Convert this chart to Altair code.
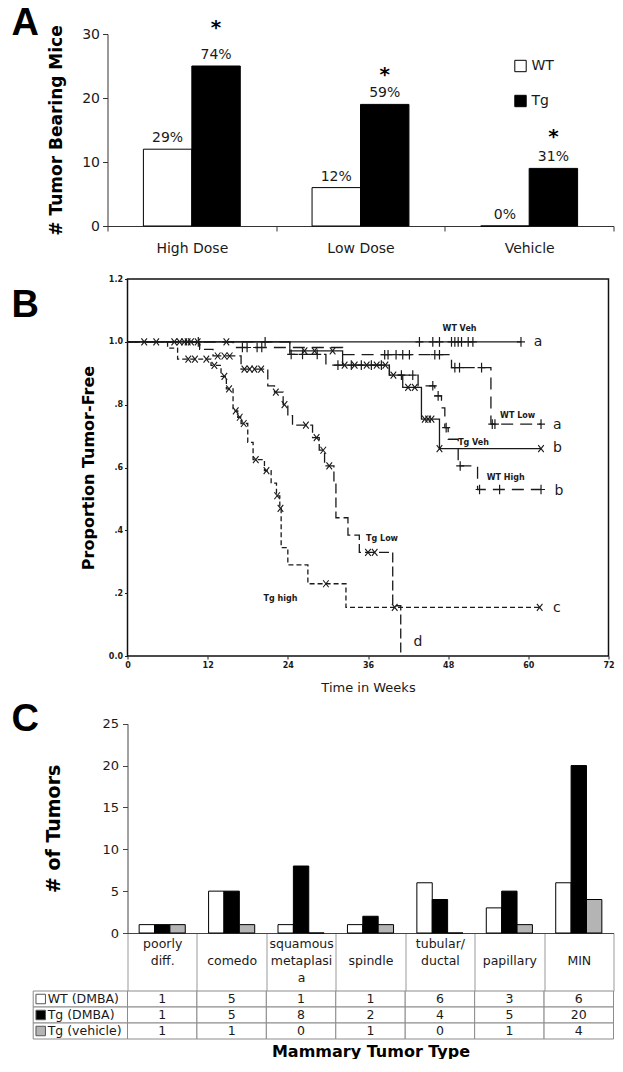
import altair as alt
import pandas as pd

# ======================= Panel A data =======================
A_CATEGORIES = ["High Dose", "Low Dose", "Vehicle"]
A_GROUPS = ["WT", "Tg"]
A_WT = [12, 6, 0]
A_TG = [25, 19, 9]
A_WT_PCT = ["29%", "12%", "0%"]
A_TG_PCT = ["74%", "59%", "31%"]
A_SIG = ["*", "*", "*"]
A_SIG_LEVEL = [31.2, 23.9, 14.2]
A_YTICKS = [0, 5, 10, 15, 20, 25, 30]

# ======================= Panel B data =======================
B_CURVES = ["WT Veh", "WT Low", "WT High", "Tg Veh", "Tg Low", "Tg high"]
B_XTICKS = [0, 12, 24, 36, 48, 60, 72]
B_YTICKS = [0, 0.2, 0.4, 0.6, 0.8, 1.0, 1.2]

WT_VEH_T = [0, 58.9]
WT_VEH_P = [1.0, 1.0]
WT_VEH_CENS = [10.6, 20.6, 43.7, 45.7, 46.7, 48.5, 49.0, 49.5, 50.0, 51.0, 51.7, 58.9]

WT_LOW_T = [0, 15.8, 32.2, 48.5, 54.4, 61.9]
WT_LOW_P = [1.0, 0.982, 0.959, 0.918, 0.738, 0.738]
WT_LOW_CENS = [17.2, 17.9, 19.4, 20.1, 38.5, 39.0, 40.2, 41.2, 42.2, 46.0, 46.7,
               49.0, 49.7, 53.0, 54.6, 55.0, 61.9]

WT_HIGH_T = [0, 24.3, 29.7, 39.2, 43.5, 46.0, 47.0, 47.5, 48.0, 49.5, 52.4, 61.9]
WT_HIGH_P = [1.0, 0.96, 0.926, 0.894, 0.86, 0.828, 0.79, 0.727, 0.69, 0.605, 0.53, 0.53]
WT_HIGH_CENS = [24.5, 26.2, 28.4, 31.5, 33.5, 35.0, 36.5, 38.0, 41.0, 42.7, 45.7, 46.5,
                47.7, 49.8, 52.7, 55.7, 61.9]

TG_VEH_T = [0, 24.3, 32.2, 39.2, 41.2, 44.0, 46.7, 61.9]
TG_VEH_P = [1.0, 0.971, 0.926, 0.894, 0.855, 0.754, 0.66, 0.66]
TG_VEH_CENS = [14.8, 26.5, 28.0, 30.7, 32.5, 34.0, 35.8, 37.3, 38.6, 39.8, 42.0, 43.0,
               44.5, 45.0, 45.5, 46.7, 61.9]

TG_LOW_T = [0, 10.8, 12.8, 17.0, 21.0, 22.0, 23.3, 24.0, 24.7, 27.7, 28.7, 29.5,
            30.9, 31.2, 33.0, 34.7, 39.7, 40.9]
TG_LOW_P = [1.0, 0.976, 0.955, 0.913, 0.86, 0.84, 0.80, 0.765, 0.735, 0.695, 0.655, 0.605,
            0.55, 0.44, 0.385, 0.33, 0.16, 0.0]
TG_LOW_CENS = [2.5, 4.3, 7.0, 7.8, 8.5, 9.0, 9.5, 10.5, 13.5, 14.5, 15.3, 17.5, 18.3,
               19.0, 20.0, 22.2, 23.5, 26.7, 28.3, 29.3, 30.2, 36.0, 37.0]

TG_HIGH_T = [0, 6.0, 7.5, 12.5, 14.0, 14.8, 15.8, 16.5, 17.0, 18.0, 18.8, 20.5, 21.5,
             22.3, 22.8, 23.0, 24.0, 27.0, 32.7, 61.7]
TG_HIGH_P = [1.0, 0.98, 0.945, 0.925, 0.89, 0.85, 0.78, 0.76, 0.74, 0.68, 0.625, 0.59,
             0.55, 0.51, 0.47, 0.345, 0.29, 0.23, 0.155, 0.155]
TG_HIGH_CENS = [9.1, 10.1, 11.8, 13.0, 14.5, 15.2, 16.2, 16.8, 17.4, 19.2, 20.8, 22.4,
                22.9, 29.7, 40.0, 61.7]

B_LABEL_TEXT = ["WT Veh", "WT Low", "Tg Veh", "WT High", "Tg Low", "Tg high"]
B_LABEL_T = [49.7, 58.4, 51.8, 56.6, 38.1, 22.9]
B_LABEL_P = [1.04, 0.764, 0.679, 0.566, 0.372, 0.18]

B_END_TEXT = ["a", "a", "b", "b", "c", "d"]
B_END_T = [60.8, 63.7, 63.7, 63.9, 63.7, 42.8]
B_END_P = [1.0, 0.735, 0.663, 0.525, 0.153, 0.044]

# ======================= Panel C data =======================
C_CATEGORIES = ["poorly\ndiff.", "comedo", "squamous\nmetaplasi\na", "spindle",
                "tubular/\nductal", "papillary", "MIN"]
C_SERIES = ["WT (DMBA)", "Tg (DMBA)", "Tg (vehicle)"]
C_WT = [1, 5, 1, 1, 6, 3, 6]
C_TG = [1, 5, 8, 2, 4, 5, 20]
C_VEH = [1, 1, 0, 1, 0, 1, 4]
C_YTICKS = [0, 5, 10, 15, 20, 25]

# ======================= styles / layout =======================
FONT = "DejaVu Sans"
INK = "#1a1a1a"
LETTER_FONT = "Liberation Sans"
SPACING = 53
A_W, A_H = 486, 192
B_W, B_H = 481, 377
C_W, C_H = 486, 224
C_TOP_PAD = 14.7
T_H = 53
T_TOP_PAD = 5
LABEL_W = 94.3 / (C_W / 7.0)   # width of the table's label column, in column units


def letter(t, offset, dy):
    return alt.TitleParams(t, anchor="start", frame="group", dx=-116, dy=dy, offset=offset,
                           fontSize=38, font=LETTER_FONT, fontWeight="bold",
                           color="black", baseline="alphabetic")


# ======================= Panel A =======================
rows = []
for i, c in enumerate(A_CATEGORIES):
    rows.append({"cat": c, "g": "WT", "v": A_WT[i], "pct": A_WT_PCT[i]})
    rows.append({"cat": c, "g": "Tg", "v": A_TG[i], "pct": A_TG_PCT[i]})
dfA = pd.DataFrame(rows)
dfA_sig = pd.DataFrame({"cat": A_CATEGORIES, "g": ["Tg"] * 3, "v": A_SIG_LEVEL, "s": A_SIG})

xA = alt.X("cat:N", sort=A_CATEGORIES,
           scale=alt.Scale(range=[-20, A_W], paddingInner=0, paddingOuter=0),
           axis=alt.Axis(title=None, labelAngle=0, tickBand="extent", tickSize=5,
                         labelPadding=10, labelFontSize=14, labelColor=INK,
                         domainColor="#333", tickColor="#333"))
xoA = alt.XOffset("g:N", sort=A_GROUPS, scale=alt.Scale(paddingOuter=0.741, paddingInner=0))
yA = alt.Y("v:Q", scale=alt.Scale(domain=[0, 30], nice=False),
           axis=alt.Axis(values=A_YTICKS, offset=20, tickSize=5, labelPadding=3,
                         labelFontSize=14, labelColor=INK, domainColor="#333",
                         tickColor="#333", grid=False,
                         title="# Tumor Bearing Mice", titleFontSize=17,
                         titleFontWeight="bold", titleColor="black", titlePadding=16))

barsA = alt.Chart(dfA).mark_bar(stroke="black", strokeWidth=1).encode(
    x=xA, xOffset=xoA, y=yA,
    fill=alt.Fill("g:N", scale=alt.Scale(domain=A_GROUPS, range=["white", "black"]),
                  legend=alt.Legend(orient="none", legendX=386, legendY=25, title=None,
                                    symbolType="square", symbolSize=130,
                                    symbolStrokeColor="black", symbolStrokeWidth=1,
                                    labelFontSize=14, labelColor=INK, rowPadding=19,
                                    labelOffset=4, padding=0)))
pctA = alt.Chart(dfA).mark_text(dy=-11, fontSize=14, baseline="middle", color=INK).encode(
    x=alt.X("cat:N", sort=A_CATEGORIES), xOffset=alt.XOffset("g:N", sort=A_GROUPS),
    y="v:Q", text="pct:N")
sigA = alt.Chart(dfA_sig).mark_text(dy=2, fontSize=20, fontWeight="bold",
                                    baseline="middle", color="black").encode(
    x=alt.X("cat:N", sort=A_CATEGORIES), xOffset=alt.XOffset("g:N", sort=A_GROUPS),
    y="v:Q", text="s:N")

panelA = alt.layer(barsA, pctA, sigA).properties(
    width=A_W, height=A_H, title=letter("A", -65, -10.6))

# ======================= Panel B =======================
curves = {
    "WT Veh": (WT_VEH_T, WT_VEH_P, WT_VEH_CENS, "plus"),
    "WT Low": (WT_LOW_T, WT_LOW_P, WT_LOW_CENS, "plus"),
    "WT High": (WT_HIGH_T, WT_HIGH_P, WT_HIGH_CENS, "plus"),
    "Tg Veh": (TG_VEH_T, TG_VEH_P, TG_VEH_CENS, "x"),
    "Tg Low": (TG_LOW_T, TG_LOW_P, TG_LOW_CENS, "x"),
    "Tg high": (TG_HIGH_T, TG_HIGH_P, TG_HIGH_CENS, "x"),
}


def level_at(T, P, c):
    idx = 0
    for i, t in enumerate(T):
        if t <= c + 1e-9:
            idx = i
    return P[idx]


line_rows, cens_rows = [], []
for name, (T, P, C, kind) in curves.items():
    for k, (t, p) in enumerate(zip(T, P)):
        line_rows.append({"curve": name, "t": t, "p": p, "o": k})
    for c in C:
        cens_rows.append({"curve": name, "t": c, "p": level_at(T, P, c), "kind": kind})
dfB = pd.DataFrame(line_rows)
dfBc = pd.DataFrame(cens_rows)
dfBl = pd.DataFrame({"t": B_LABEL_T, "p": B_LABEL_P, "s": B_LABEL_TEXT})
dfBe = pd.DataFrame({"t": B_END_T, "p": B_END_P, "s": B_END_TEXT})

xB = alt.X("t:Q", scale=alt.Scale(domain=[0, 72], nice=False, zero=False),
           axis=alt.Axis(values=B_XTICKS, domain=False, grid=False, tickSize=3,
                         tickColor=INK, labelPadding=2, labelFontSize=8,
                         labelFontWeight="bold", labelColor=INK, labelFlush=False,
                         title="Time in Weeks", titleFontSize=13, titleFontWeight="normal",
                         titleColor=INK, titlePadding=12))
yB = alt.Y("p:Q", scale=alt.Scale(domain=[0, 1.2], nice=False, zero=False),
           axis=alt.Axis(values=B_YTICKS, domain=False, grid=False, tickSize=3,
                         tickColor=INK, labelPadding=2, labelFontSize=8,
                         labelFontWeight="bold", labelColor=INK,
                         labelExpr="datum.value > 0 && datum.value < 1 ? replace(format(datum.value, '.1f'), '0.', '.') : format(datum.value, '.1f')",
                         title="Proportion Tumor-Free", titleFontSize=16,
                         titleFontWeight="bold", titleColor="black", titlePadding=12))

linesB = alt.Chart(dfB).mark_line(interpolate="step-after", strokeWidth=1.3, color=INK,
                                  strokeCap="butt").encode(
    x=xB, y=yB, detail="curve:N", order="o:Q",
    strokeDash=alt.StrokeDash("curve:N", legend=None,
                              scale=alt.Scale(domain=B_CURVES,
                                              range=[[1, 0], [12, 7], [12, 7], [1, 0],
                                                     [10, 4], [5, 3]])))
plusB = alt.Chart(dfBc).transform_filter(alt.datum.kind == "plus").mark_point(
    shape="M-1,0L1,0M0,-1.2L0,1.2", size=64, filled=False, stroke=INK,
    strokeWidth=1.2, opacity=1).encode(x="t:Q", y="p:Q")
crossB = alt.Chart(dfBc).transform_filter(alt.datum.kind == "x").mark_point(
    shape="M-0.8,-1L0.8,1M-0.8,1L0.8,-1", size=49, filled=False, stroke=INK,
    strokeWidth=1.1, opacity=1).encode(x="t:Q", y="p:Q")
labB = alt.Chart(dfBl).mark_text(fontSize=8, fontWeight="bold", color=INK,
                                 baseline="middle").encode(x="t:Q", y="p:Q", text="s:N")
endB = alt.Chart(dfBe).mark_text(fontSize=14, color=INK, align="left",
                                 baseline="middle").encode(x="t:Q", y="p:Q", text="s:N")

panelB = alt.layer(linesB, plusB, crossB, labB, endB).properties(
    width=B_W, height=B_H, title=letter("B", 0, 79.5),
    view=alt.ViewBackground(stroke="#111", strokeWidth=1.5))

# ======================= Panel C =======================
rows = []
for i, c in enumerate(C_CATEGORIES):
    for s, vals in zip(C_SERIES, [C_WT, C_TG, C_VEH]):
        rows.append({"cat": c, "series": s, "v": vals[i]})
dfC = pd.DataFrame(rows)

barsC = alt.Chart(dfC).mark_bar(stroke="black", strokeWidth=1).encode(
    x=alt.X("cat:N", sort=C_CATEGORIES,
            scale=alt.Scale(paddingInner=0, paddingOuter=0),
            axis=alt.Axis(title=None, labelAngle=0, labelOverlap=False,
                          labelExpr="indexof(datum.label, '\\n') < 0 ? ['', datum.label] : split(datum.label, '\\n')",
                          labelPadding=-48, labelBaseline="middle", labelFontSize=12.5,
                          labelLineHeight=17, labelColor=INK, tickBand="extent",
                          tickSize=58, tickColor="#999", domainColor="#444")),
    xOffset=alt.XOffset("series:N", sort=C_SERIES,
                        scale=alt.Scale(paddingOuter=0.758, paddingInner=0)),
    y=alt.Y("v:Q", scale=alt.Scale(domain=[0, 25], nice=False, range=[C_H, C_TOP_PAD]),
            axis=alt.Axis(values=C_YTICKS, tickSize=5, labelPadding=4, labelFontSize=13,
                          labelColor=INK, domainColor="#444", tickColor="#444",
                          grid=False, title="# of Tumors", titleFontSize=19,
                          titleFontWeight="bold", titleColor="black", titlePadding=38)),
    fill=alt.Fill("series:N", legend=None,
                  scale=alt.Scale(domain=C_SERIES, range=["white", "black", "#b4b4b4"])))

panelC = barsC.properties(width=C_W, height=C_H, title=letter("C", 0, 60))

# ======================= Table =======================
cells = []
for r, (s, vals) in enumerate(zip(C_SERIES, [C_WT, C_TG, C_VEH])):
    for i, v in enumerate(vals):
        cells.append({"row": s, "x0": i, "x1": i + 1, "xc": i + 0.5, "txt": str(v)})
    cells.append({"row": s, "x0": -LABEL_W, "x1": 0, "xc": None, "txt": None})
dfT = pd.DataFrame(cells)
dfTv = dfT.dropna(subset=["txt"])
dfTl = pd.DataFrame({"row": C_SERIES, "x0": [-LABEL_W] * 3, "txt": C_SERIES})

yT = alt.Y("row:N", sort=C_SERIES, axis=None,
           scale=alt.Scale(range=[T_TOP_PAD, T_H], paddingInner=0, paddingOuter=0))
xT = alt.X("x0:Q", scale=alt.Scale(domain=[0, 7], nice=False, zero=False),
           axis=alt.Axis(title="Mammary Tumor Type", labels=False, ticks=False,
                         domain=False, grid=False, titleFontSize=16,
                         titleFontWeight="bold", titleColor="black", titlePadding=4))

cellT = alt.Chart(dfT).mark_rect(fill="white", stroke="#8c8c8c", strokeWidth=1).encode(
    x=xT, x2="x1:Q", y=yT)
valT = alt.Chart(dfTv).mark_text(fontSize=12.5, color=INK, baseline="middle").encode(
    x="xc:Q", y=alt.Y("row:N", sort=C_SERIES), text="txt:N")
labT = alt.Chart(dfTl).mark_text(fontSize=12.5, color=INK, align="left", dx=14.5,
                                 baseline="middle").encode(
    x="x0:Q", y=alt.Y("row:N", sort=C_SERIES), text="txt:N")
sqT = alt.Chart(dfTl).mark_square(size=90, xOffset=7.5, stroke="#555", strokeWidth=1,
                                  opacity=1).encode(
    x="x0:Q", y=alt.Y("row:N", sort=C_SERIES),
    fill=alt.Fill("row:N", legend=None,
                  scale=alt.Scale(domain=C_SERIES, range=["white", "black", "#b4b4b4"])))

table = alt.layer(cellT, valT, labT, sqT).properties(width=C_W, height=T_H)

chart = alt.vconcat(panelA, panelB, panelC, table, spacing=SPACING, bounds="flush").resolve_scale(
    x="independent", y="independent", xOffset="independent", fill="independent",
    strokeDash="independent"
).properties(
    padding={"left": 2.5, "top": -4, "right": -19, "bottom": 0},
    background="white"
).configure(font=FONT).configure_view(stroke=None).configure_axis(grid=False)

chart.save("out.html", embed_options={"renderer": "svg", "actions": False})
